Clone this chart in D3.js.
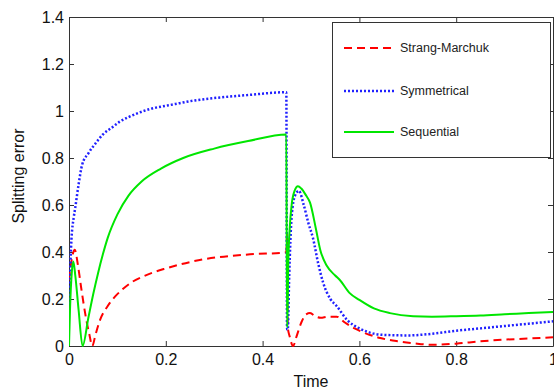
<!DOCTYPE html>
<html>
<head>
<meta charset="utf-8">
<script src="https://cdn.jsdelivr.net/npm/d3@7"></script>
<style>
  html, body { margin: 0; padding: 0; background: #fff; }
  svg { display: block; font-family: Arial, "Liberation Sans", sans-serif; }
</style>
</head>
<body>
<svg id="chart" width="554" height="389"></svg>
<script>
// ---- data ----
const seriesNames = ["Strang-Marchuk", "Symmetrical", "Sequential"];
const xTicks = [0, 0.2, 0.4, 0.6, 0.8, 1];
const yTicks = [0, 0.2, 0.4, 0.6, 0.8, 1, 1.2, 1.4];

const strangT = [0,0.005,0.012,0.018,0.025,0.035,0.042,0.048,0.055,0.064,0.08,0.095,0.11,0.13,0.15,0.175,0.2,0.27,0.374,0.449,0.4505,0.452,0.456,0.463,0.47,0.48,0.49,0.498,0.51,0.52,0.535,0.553,0.57,0.59,0.608,0.643,0.68,0.711,0.75,0.8,0.85,0.9,0.95,1];
const strangV = [0.28,0.36,0.41,0.35,0.25,0.12,0.05,0.0,0.05,0.11,0.17,0.21,0.24,0.272,0.293,0.314,0.33,0.366,0.39,0.398,0.48,0.08,0.04,0.0,0.04,0.1,0.135,0.14,0.125,0.12,0.125,0.125,0.1,0.075,0.058,0.034,0.02,0.012,0.005,0.01,0.02,0.027,0.032,0.037];

const symT = [0,0.002,0.005,0.01,0.013,0.02,0.027,0.04,0.054,0.07,0.089,0.105,0.124,0.145,0.17,0.2,0.22,0.26,0.3,0.37,0.449,0.4505,0.452,0.455,0.46,0.467,0.475,0.485,0.495,0.504,0.515,0.525,0.54,0.553,0.575,0.6,0.62,0.645,0.7,0.75,0.8,0.85,0.9,0.95,1];
const symV = [0.18,0.3,0.45,0.55,0.59,0.69,0.77,0.82,0.86,0.9,0.93,0.955,0.975,0.993,1.01,1.022,1.03,1.045,1.055,1.068,1.08,0.07,0.07,0.3,0.55,0.64,0.66,0.6,0.52,0.46,0.35,0.27,0.2,0.17,0.11,0.075,0.058,0.048,0.045,0.052,0.065,0.075,0.085,0.095,0.105];

const seqT = [0,0.002,0.006,0.009,0.013,0.02,0.028,0.04,0.05,0.06,0.07,0.08,0.1,0.123,0.15,0.19,0.236,0.3,0.37,0.449,0.4505,0.451,0.453,0.456,0.46,0.466,0.473,0.48,0.49,0.498,0.51,0.519,0.533,0.55,0.56,0.58,0.6,0.63,0.663,0.711,0.75,0.8,0.85,0.9,0.95,1];
const seqV = [0,0.15,0.32,0.36,0.3,0.15,0.0,0.12,0.22,0.31,0.39,0.46,0.56,0.64,0.70,0.755,0.80,0.84,0.872,0.9,0.08,0.08,0.35,0.5,0.6,0.66,0.68,0.67,0.64,0.61,0.5,0.41,0.34,0.3,0.28,0.225,0.196,0.16,0.14,0.127,0.125,0.127,0.13,0.135,0.14,0.145];

// ---- layout ----
const svg = d3.select("#chart");
const L = 69, R = 553, T = 17, B = 346;
const x = d3.scaleLinear().domain([0, 1]).range([L, R]);
const y = d3.scaleLinear().domain([0, 1.4]).range([B, T]);

// axes (MATLAB style, ticks inside)
const fontSize = 16;
const gBottom = svg.append("g").attr("transform", `translate(0,${B})`)
  .call(d3.axisBottom(x).tickValues(xTicks).tickSizeInner(-5).tickSizeOuter(0).tickPadding(8).tickFormat(d3.format("~g")));
const gTop = svg.append("g").attr("transform", `translate(0,${T})`)
  .call(d3.axisTop(x).tickValues(xTicks).tickSizeInner(-5).tickSizeOuter(0).tickFormat(""));
const gLeft = svg.append("g").attr("transform", `translate(${L},0)`)
  .call(d3.axisLeft(y).tickValues(yTicks).tickSizeInner(-5).tickSizeOuter(0).tickPadding(5).tickFormat(d3.format("~g")));
const gRight = svg.append("g").attr("transform", `translate(${R},0)`)
  .call(d3.axisRight(y).tickValues(yTicks).tickSizeInner(-5).tickSizeOuter(0).tickFormat(""));

[gBottom, gTop, gLeft, gRight].forEach(g => {
  g.selectAll(".domain").attr("stroke", "#333").attr("stroke-width", 1);
  g.selectAll(".tick line").attr("stroke", "#333");
  g.selectAll("text").attr("font-size", fontSize).attr("fill", "#111")
    .attr("font-family", "Arial, 'Liberation Sans', sans-serif");
});
gBottom.selectAll("text").attr("dy", "0.71em").attr("y", 8);

// axis labels
svg.append("text").attr("x", 311).attr("y", 387).attr("text-anchor", "middle")
  .attr("font-size", fontSize).attr("fill", "#111").text("Time");
svg.append("text").attr("transform", "translate(24,176) rotate(-90)").attr("text-anchor", "middle")
  .attr("font-size", fontSize).attr("fill", "#111").text("Splitting error");

// lines
svg.append("clipPath").attr("id", "clip").append("rect")
  .attr("x", L).attr("y", T).attr("width", R - L).attr("height", B - T + 1);
const line = d3.line().x(d => x(d[0])).y(d => y(d[1])).curve(d3.curveMonotoneX);
const series = [
  { name: seriesNames[0], pts: d3.zip(strangT, strangV), color: "#ff0000", dash: "8,5", width: 2 },
  { name: seriesNames[1], pts: d3.zip(symT, symV), color: "#2020ff", dash: "2,2", width: 2.5 },
  { name: seriesNames[2], pts: d3.zip(seqT, seqV), color: "#00e600", dash: null, width: 2 }
];
const plot = svg.append("g").attr("clip-path", "url(#clip)");
series.forEach(s => {
  plot.append("path").datum(s.pts).attr("d", line)
    .attr("fill", "none").attr("stroke", s.color).attr("stroke-width", s.width)
    .attr("stroke-dasharray", s.dash).attr("stroke-linejoin", "round");
});

// legend
const lg = svg.append("g");
lg.append("rect").attr("x", 332.5).attr("y", 22.5).attr("width", 218).attr("height", 135)
  .attr("fill", "#fff").attr("stroke", "#333").attr("stroke-width", 1);
const legY = [48, 91, 132];
series.forEach((s, i) => {
  lg.append("line").attr("x1", 344).attr("x2", 394).attr("y1", legY[i]).attr("y2", legY[i])
    .attr("stroke", s.color).attr("stroke-width", s.width).attr("stroke-dasharray", s.dash);
  lg.append("text").attr("x", 400).attr("y", legY[i]).attr("dy", "0.35em")
    .attr("font-size", 12.5).attr("fill", "#222").text(s.name);
});
</script>
</body>
</html>
